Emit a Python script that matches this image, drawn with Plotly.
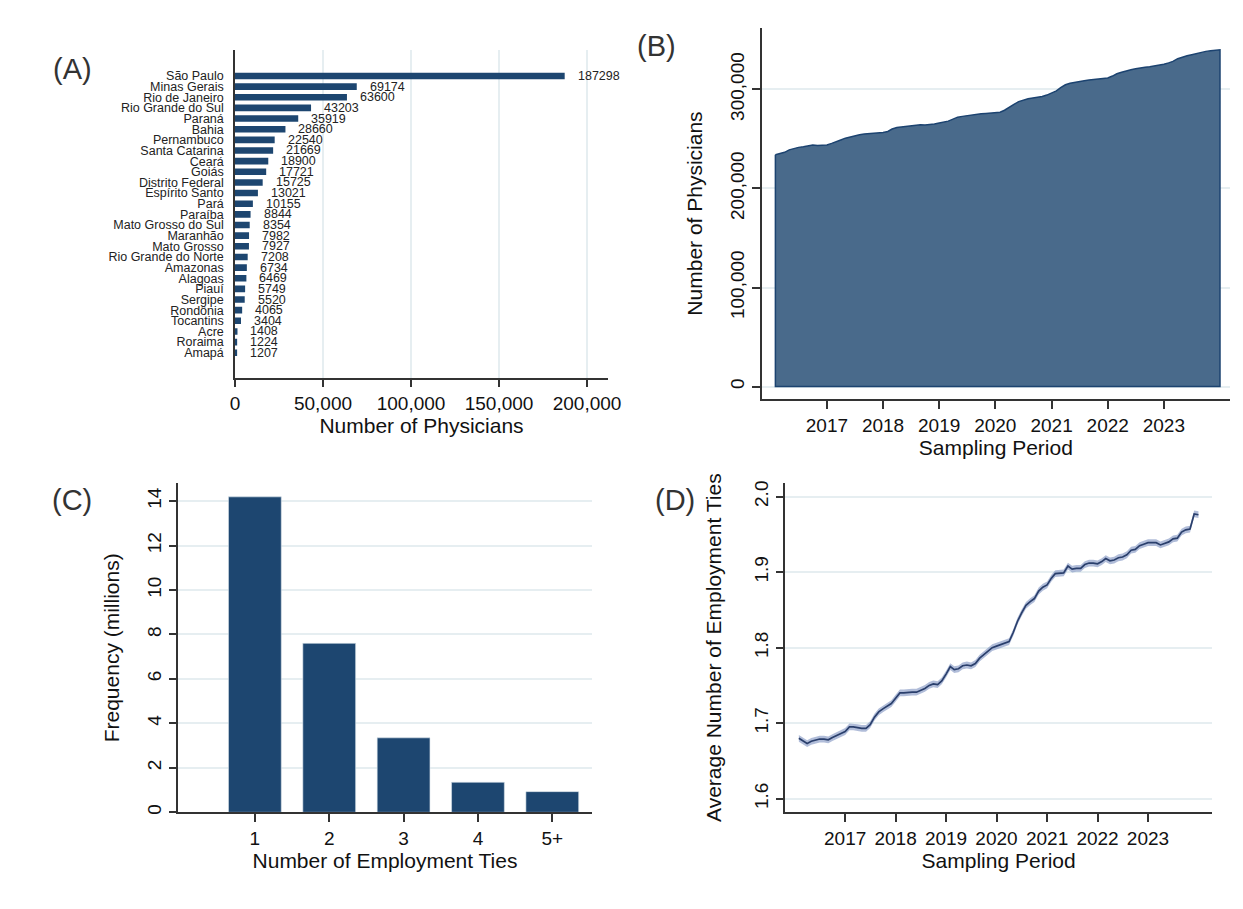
import plotly.graph_objects as go

# ---------------- DATA ----------------
states = ["São Paulo", "Minas Gerais", "Rio de Janeiro", "Rio Grande do Sul", "Paraná", "Bahia",
          "Pernambuco", "Santa Catarina", "Ceará", "Goiás", "Distrito Federal", "Espírito Santo",
          "Pará", "Paraíba", "Mato Grosso do Sul", "Maranhão", "Mato Grosso", "Rio Grande do Norte",
          "Amazonas", "Alagoas", "Piauí", "Sergipe", "Rondônia", "Tocantins", "Acre", "Roraima", "Amapá"]
physicians = [187298, 69174, 63600, 43203, 35919, 28660, 22540, 21669, 18900, 17721, 15725, 13021,
              10155, 8844, 8354, 7982, 7927, 7208, 6734, 6469, 5749, 5520, 4065, 3404, 1408, 1224, 1207]

# monthly sampling period, Feb 2016 .. Jan 2024
months = [f"{2016 + (m + 1) // 12}-{(m + 1) % 12 + 1:02d}-01" for m in range(96)]

physicians_time_k = [
    234.0, 235.0, 236.5, 239.0, 240.5, 241.5, 242.2, 243.0, 243.9, 243.3, 243.5, 244.0,
    245.5, 246.8, 249.0, 250.8, 252.2, 253.3, 254.3, 255.0, 255.3, 255.5, 255.8, 256.5,
    257.5, 260.0, 261.6, 262.2, 262.8, 263.5, 264.1, 264.3, 264.0, 264.3, 265.2, 266.2,
    267.0, 268.0, 270.0, 272.0, 272.8, 273.6, 274.3, 275.0, 275.5, 275.8, 276.2, 276.6,
    277.0, 279.0, 282.3, 285.0, 287.7, 289.3, 290.5, 291.3, 292.0, 292.8, 294.3, 296.0,
    298.5, 301.8, 304.7, 306.3, 307.4, 308.2, 308.8, 309.4, 309.8, 310.1, 310.8, 311.6,
    313.5, 315.8, 317.3, 318.8, 319.8, 320.8, 321.8, 322.4, 323.0, 323.6, 324.5, 325.5,
    326.8, 328.3, 331.0, 332.8, 334.0, 335.1, 336.3, 337.7, 338.4, 339.0, 339.5, 340.0]

ties_labels = ["1", "2", "3", "4", "5+"]
ties_freq_millions = [14.19, 7.60, 3.35, 1.35, 0.93]

avg_ties = [
    1.680, 1.677, 1.673, 1.676, 1.678, 1.679, 1.679, 1.678, 1.681, 1.684, 1.687, 1.689,
    1.695, 1.695, 1.694, 1.693, 1.693, 1.698, 1.708, 1.715, 1.719, 1.722, 1.726, 1.733,
    1.740, 1.740, 1.741, 1.741, 1.741, 1.743, 1.746, 1.750, 1.752, 1.751, 1.756, 1.765,
    1.775, 1.771, 1.772, 1.776, 1.777, 1.776, 1.779, 1.786, 1.791, 1.795, 1.800, 1.802,
    1.804, 1.805, 1.808, 1.820, 1.835, 1.846, 1.856, 1.861, 1.865, 1.875, 1.880, 1.883,
    1.892, 1.898, 1.898, 1.899, 1.908, 1.904, 1.905, 1.905, 1.910, 1.912, 1.912, 1.911,
    1.914, 1.918, 1.915, 1.916, 1.919, 1.920, 1.923, 1.929, 1.930, 1.935, 1.937, 1.939,
    1.939, 1.939, 1.936, 1.938, 1.940, 1.944, 1.945, 1.953, 1.956, 1.957, 1.977, 1.976]
ci_half = 0.0045

year_ticks = [f"{y}-01-01" for y in range(2017, 2024)]
year_labels = [str(y) for y in range(2017, 2024)]

# ---------------- STYLE ----------------
FONT = "Liberation Sans, Arial, sans-serif"
BAR = "#1d4670"
AREA_FILL = "#496a8b"
AREA_LINE = "#1c4370"
LINE_D = "#2a3f6c"
BAND_D = "rgba(125,145,192,0.6)"
GRID = "#e6eef1"
AXIS = "#333333"
W, H = 1243, 909

fig = go.Figure()

# (A) horizontal bars
fig.add_trace(go.Bar(x=physicians, y=states, orientation="h", marker=dict(color=BAR, line=dict(width=0)),
                     width=0.62, xaxis="x", yaxis="y", showlegend=False))

# (B) area
fig.add_trace(go.Scatter(x=months + [months[-1], months[0], months[0]],
                         y=[v * 1000 for v in physicians_time_k] + [0, 0, physicians_time_k[0] * 1000],
                         fill="toself", fillcolor=AREA_FILL, mode="lines",
                         line=dict(color=AREA_LINE, width=1.5), xaxis="x2", yaxis="y2", showlegend=False))

# (C) bars
fig.add_trace(go.Bar(x=[1, 2, 3, 4, 5], y=ties_freq_millions, width=0.71,
                     marker=dict(color=BAR, line=dict(color="#d9e2ea", width=0.6)),
                     xaxis="x3", yaxis="y3", showlegend=False))

# (D) line with CI band
lower = [v - ci_half for v in avg_ties]
upper = [v + ci_half for v in avg_ties]
fig.add_trace(go.Scatter(x=months, y=lower, mode="lines", line=dict(width=0), hoverinfo="skip",
                         xaxis="x4", yaxis="y4", showlegend=False))
fig.add_trace(go.Scatter(x=months, y=upper, mode="lines", line=dict(width=0), fill="tonexty",
                         fillcolor=BAND_D, hoverinfo="skip", xaxis="x4", yaxis="y4", showlegend=False))
fig.add_trace(go.Scatter(x=months, y=avg_ties, mode="lines", line=dict(color=LINE_D, width=1.7),
                         xaxis="x4", yaxis="y4", showlegend=False))

tickfont = dict(family=FONT, size=19, color="#111111")
titlefont = dict(family=FONT, size=21, color="#111111")
common = dict(showline=True, linecolor=AXIS, linewidth=1.5, zeroline=False,
              tickcolor=AXIS, tickwidth=1.5, automargin=False)

# value labels for (A)
annotations = []
for s, v in zip(states, physicians):
    annotations.append(dict(x=v, y=s, xref="x", yref="y", text=str(v), showarrow=False,
                            xanchor="left", yanchor="middle", xshift=11,
                            font=dict(family=FONT, size=12.5, color="#222222")))

for lab, px, py in [("(A)", 72, 69), ("(B)", 656, 46), ("(C)", 72, 500), ("(D)", 675, 500)]:
    annotations.append(dict(x=px / W, y=1 - py / H, xref="paper", yref="paper", text=lab,
                            showarrow=False, xanchor="center", yanchor="middle",
                            font=dict(family=FONT, size=29, color="#333333")))

fig.update_layout(
    width=W, height=H, margin=dict(l=0, r=0, t=0, b=0, autoexpand=False),
    paper_bgcolor="white", plot_bgcolor="white", font=dict(family=FONT),
    annotations=annotations,
    xaxis=dict(domain=[235 / W, 608 / W], range=[0, 211900], anchor="y",
               tickvals=[0, 50000, 100000, 150000, 200000], tickformat=",d",
               ticks="outside", ticklen=7, showgrid=True, gridcolor=GRID, gridwidth=1.5,
               tickfont=tickfont,
               title=dict(text="Number of Physicians", font=titlefont, standoff=2), **common),
    yaxis=dict(domain=[1 - 378.3 / H, 1 - 50 / H], type="category", categoryorder="array",
               categoryarray=states, tickmode="array", tickvals=states, ticktext=states,
               range=[28.4, -2.44], anchor="x", ticks="", showgrid=False,
               ticklabelstandoff=7, tickfont=dict(family=FONT, size=12.5, color="#222222"),
               **common),
    xaxis2=dict(domain=[761.7 / W, 1230 / W], type="date", range=["2015-11-04", "2024-03-06"],
                anchor="y2", tickvals=year_ticks, ticktext=year_labels, ticks="outside", ticklen=8,
                showgrid=False, tickfont=tickfont,
                title=dict(text="Sampling Period", font=titlefont, standoff=2), **common),
    yaxis2=dict(domain=[1 - 399 / H, 1 - 28 / H], range=[-12500, 362000], anchor="x2",
                tickvals=[0, 100000, 200000, 300000], tickformat=",d", tickangle=-90,
                ticks="outside", ticklen=8, showgrid=True, gridcolor=GRID, gridwidth=1.5,
                tickfont=tickfont,
                title=dict(text="Number of Physicians", font=titlefont, standoff=19), **common),
    xaxis3=dict(domain=[178.3 / W, 591.7 / W], range=[-0.03, 5.53], anchor="y3",
                tickvals=[1, 2, 3, 4, 5], ticktext=ties_labels, ticks="outside", ticklen=8,
                showgrid=False, tickfont=tickfont,
                title=dict(text="Number of Employment Ties", font=titlefont, standoff=2), **common),
    yaxis3=dict(domain=[1 - 812.3 / H, 1 - 483.3 / H], range=[0, 14.8], anchor="x3",
                tickvals=[0, 2, 4, 6, 8, 10, 12, 14], tickangle=-90, ticks="outside", ticklen=8,
                showgrid=True, gridcolor=GRID, gridwidth=1.5, tickfont=tickfont,
                title=dict(text="Frequency (millions)", font=titlefont, standoff=19), **common),
    xaxis4=dict(domain=[785.3 / W, 1212 / W], type="date", range=["2015-10-26", "2024-04-08"],
                anchor="y4", tickvals=year_ticks, ticktext=year_labels, ticks="outside", ticklen=8,
                showgrid=False, tickfont=tickfont,
                title=dict(text="Sampling Period", font=titlefont, standoff=2), **common),
    yaxis4=dict(domain=[1 - 812.3 / H, 1 - 483 / H], range=[1.582, 2.018], anchor="x4",
                tickvals=[1.6, 1.7, 1.8, 1.9, 2.0], tickformat=".1f", tickangle=-90,
                ticks="outside", ticklen=8, showgrid=True, gridcolor=GRID, gridwidth=1.5,
                tickfont=tickfont,
                title=dict(text="Average Number of Employment Ties", font=titlefont, standoff=24),
                **common),
)

fig.write_html("out.html", config={"displayModeBar": False},
               post_script="document.body.style.margin='0';document.body.style.overflow='hidden';")
